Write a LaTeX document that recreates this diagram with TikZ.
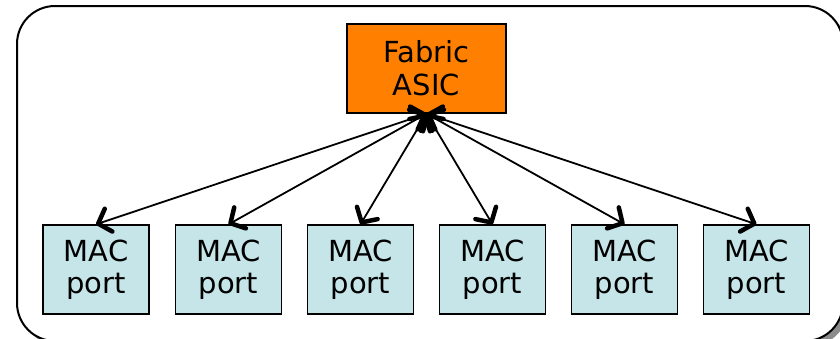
\documentclass[tikz,border=0pt]{standalone}
\usepackage{fontspec}
\setmainfont{DejaVu Sans}
\usetikzlibrary{arrows.meta,shadows}
\definecolor{asicorange}{RGB}{255,128,0}
\definecolor{maccyan}{RGB}{197,229,232}
\tikzset{
  px/.style={x=1pt,y=-1pt},
  asicbox/.style={draw=black,line width=1.5pt,fill=asicorange,minimum width=159pt,minimum height=89pt,inner sep=0pt,align=center,font=\fontsize{29}{33}\selectfont},
  macbox/.style={draw=black,line width=1.3pt,fill=maccyan,minimum width=106pt,minimum height=89pt,inner sep=0pt,align=center,font=\fontsize{29}{32}\selectfont},
  barb/.tip={Straight Barb[length=11pt,width=24pt,line width=4.5pt,round]},
  link/.style={line width=1.8pt,barb-barb},
  outer/.style={draw=black,line width=2pt,fill=white,rounded corners=38pt,drop shadow={shadow xshift=5pt,shadow yshift=-5pt,fill=black!45,opacity=1}}
}
\begin{document}
\begin{tikzpicture}[px]
\useasboundingbox (0,0) rectangle (840,338);
\clip (0,0) rectangle (840,338);
\path[outer] (17,6) rectangle (843,341);
\node[asicbox] (asic) at (426.5,68.5) {Fabric\\ASIC};
\node[macbox] (m1) at (96,269.5) {MAC\\port};
\node[macbox] (m2) at (228.5,269.5) {MAC\\port};
\node[macbox] (m3) at (360.5,269.5) {MAC\\port};
\node[macbox] (m4) at (492.5,269.5) {MAC\\port};
\node[macbox] (m5) at (624.5,269.5) {MAC\\port};
\node[macbox] (m6) at (756.5,269.5) {MAC\\port};
\foreach \m in {m1,m2,m3,m4,m5,m6}{
  \draw[link] (asic.south) -- (\m.north);
}
\end{tikzpicture}
\end{document}
